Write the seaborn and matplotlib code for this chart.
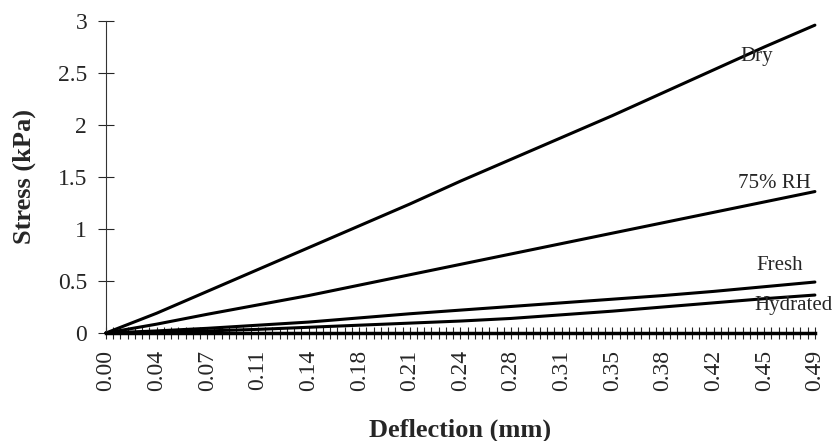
import pandas as pd
import seaborn as sns
import matplotlib.pyplot as plt
from matplotlib.ticker import FixedLocator, MultipleLocator

# deflection (mm) at the labelled category positions
deflection = [0.000, 0.035, 0.070, 0.105, 0.140, 0.175, 0.210, 0.245,
              0.280, 0.315, 0.350, 0.385, 0.420, 0.455, 0.490]
tick_labels = ['0.00', '0.04', '0.07', '0.11', '0.14', '0.18', '0.21', '0.24',
               '0.28', '0.31', '0.35', '0.38', '0.42', '0.45', '0.49']

# stress (kPa)
dry = [0.00, 0.19, 0.40, 0.61, 0.82, 1.03, 1.24, 1.46,
       1.67, 1.88, 2.09, 2.31, 2.53, 2.75, 2.96]
rh75 = [0.00, 0.085, 0.18, 0.27, 0.36, 0.46, 0.56, 0.66,
        0.76, 0.86, 0.96, 1.06, 1.16, 1.26, 1.36]
fresh = [0.00, 0.02, 0.045, 0.075, 0.105, 0.145, 0.185, 0.22,
         0.255, 0.29, 0.325, 0.36, 0.40, 0.445, 0.49]
hydrated = [0.00, 0.008, 0.02, 0.035, 0.055, 0.075, 0.095, 0.115,
            0.14, 0.175, 0.21, 0.25, 0.29, 0.33, 0.365]

series = ['Dry', '75% RH', 'Fresh', 'Hydrated']

df = pd.concat([
    pd.DataFrame({'Deflection': deflection, 'Stress': vals, 'Sample': name})
    for name, vals in zip(series, [dry, rh75, fresh, hydrated])
])

sns.set_style('white')
plt.rcParams['font.family'] = ['Liberation Serif', 'DejaVu Serif']

fig = plt.figure(figsize=(8.37, 4.41), dpi=100)
ax = fig.add_axes([0.1266, 0.2449, 0.847, 0.7075])

sns.lineplot(data=df, x='Deflection', y='Stress', hue='Sample',
             palette=['black'] * 4, linewidth=2.2, legend=False, ax=ax)
for line in ax.lines:
    line.set_clip_on(False)

ax.set_xlim(0, 0.49)
ax.set_ylim(0, 3)

ax.xaxis.set_major_locator(FixedLocator(deflection))
ax.set_xticklabels(tick_labels, rotation=90, fontsize=17)
ax.xaxis.set_minor_locator(MultipleLocator(0.005))
ax.tick_params(axis='x', which='both', direction='inout', length=8, width=0.8,
               bottom=True, pad=8)

ax.set_yticks([0, 0.5, 1, 1.5, 2, 2.5, 3])
ax.set_yticklabels(['0', '0.5', '1', '1.5', '2', '2.5', '3'], fontsize=17)
ax.tick_params(axis='y', direction='inout', length=11, width=0.8, left=True, pad=8)

sns.despine(ax=ax)
ax.spines['left'].set_linewidth(0.8)
ax.spines['left'].set_color('#333333')
ax.spines['bottom'].set_linewidth(2.5)
ax.spines['bottom'].set_color('black')

ax.set_xlabel('Deflection (mm)', fontsize=19, fontweight='bold')
ax.set_ylabel('Stress (kPa)', fontsize=19, fontweight='bold')
ax.xaxis.set_label_coords(0.50, -0.275)
ax.yaxis.set_label_coords(-0.099, 0.503)

ax.text(0.450, 2.66, 'Dry', fontsize=15, ha='center', va='center')
ax.text(0.462, 1.44, '75% RH', fontsize=15, ha='center', va='center')
ax.text(0.466, 0.65, 'Fresh', fontsize=15, ha='center', va='center')
ax.text(0.475, 0.26, 'Hydrated', fontsize=15, ha='center', va='center')

fig.savefig('out.png', dpi=100)
